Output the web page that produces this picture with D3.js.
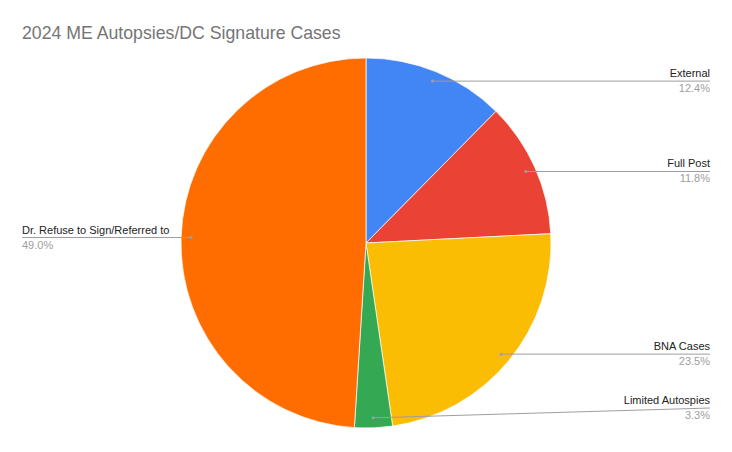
<!DOCTYPE html>
<html>
<head>
<meta charset="utf-8">
<script src="https://cdn.jsdelivr.net/npm/d3@7"></script>
<style>
  html, body { margin: 0; padding: 0; background: #fff; }
  svg { display: block; font-family: Arial, "Liberation Sans", sans-serif; }
</style>
</head>
<body>
<svg id="chart" width="732" height="452"></svg>
<script>
const title = "2024 ME Autopsies/DC Signature Cases";
const categories = ["External", "Full Post", "BNA Cases", "Limited Autospies", "Dr. Refuse to Sign/Referred to"];
const values = [12.4, 11.8, 23.5, 3.3, 49.0];
const pctLabels = ["12.4%", "11.8%", "23.5%", "3.3%", "49.0%"];
const colors = ["#4285F4", "#EA4335", "#FBBC04", "#34A853", "#FF6D01"];

const W = 732, H = 452;
const cx = 366, cy = 243, R = 185;
const svg = d3.select("#chart");

svg.append("text")
  .attr("x", 22).attr("y", 39)
  .attr("font-size", 17.7)
  .attr("fill", "#757575")
  .text(title);

const pie = d3.pie().sort(null).value(d => d.v);
const arcs = pie(categories.map((c, i) => ({ c, v: values[i], p: pctLabels[i], col: colors[i] })));
const arc = d3.arc().innerRadius(0).outerRadius(R);
const anchorArc = d3.arc().innerRadius(R - 10).outerRadius(R - 10);

const g = svg.append("g").attr("transform", `translate(${cx},${cy})`);
g.selectAll("path.slice").data(arcs).join("path")
  .attr("class", "slice")
  .attr("d", arc)
  .attr("fill", d => d.data.col)
  .attr("stroke", "#fff")
  .attr("stroke-width", 0.7);

const rightX = 710, leftX = 22, maxLineY = 408;
const lab = svg.append("g");
arcs.forEach(d => {
  const [ax, ay] = anchorArc.centroid(d);
  const px = cx + ax, py = cy + ay;
  const mid = (d.startAngle + d.endAngle) / 2;
  const right = mid < Math.PI;
  const ly = Math.min(py, maxLineY);
  const ex = right ? rightX : leftX;
  lab.append("path")
    .attr("d", `M${px},${py}L${ex},${ly}`)
    .attr("stroke", "#9e9e9e").attr("stroke-width", 1).attr("fill", "none");
  lab.append("circle").attr("cx", px).attr("cy", py).attr("r", 1.5).attr("fill", "#9e9e9e");
  lab.append("text")
    .attr("x", ex).attr("y", ly - 4)
    .attr("text-anchor", right ? "end" : "start")
    .attr("font-size", 11).attr("fill", "#222")
    .text(d.data.c);
  lab.append("text")
    .attr("x", ex).attr("y", ly + 11)
    .attr("text-anchor", right ? "end" : "start")
    .attr("font-size", 11).attr("fill", "#9e9e9e")
    .text(d.data.p);
});
</script>
</body>
</html>
